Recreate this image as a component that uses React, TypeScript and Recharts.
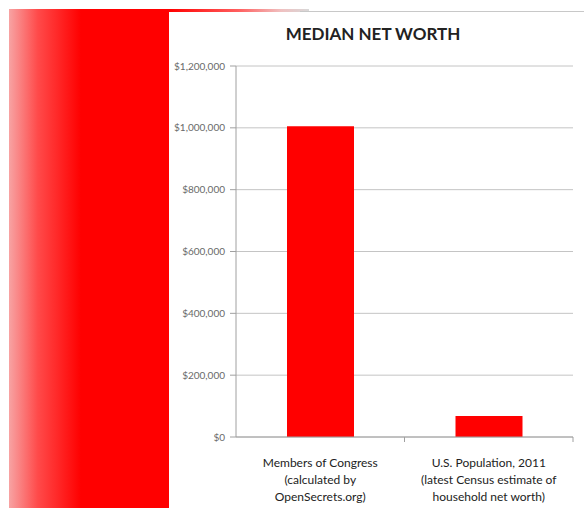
import React from 'react';
import { BarChart, Bar, XAxis, YAxis, CartesianGrid } from 'recharts';

const categories = ['Members of Congress', 'U.S. Population, 2011'];
const categoryLines = [
  ['Members of Congress', '(calculated by', 'OpenSecrets.org)'],
  ['U.S. Population, 2011', '(latest Census estimate of', 'household net worth)'],
];
const medianNetWorth = [1005000, 68000];
const yTicks = [0, 200000, 400000, 600000, 800000, 1000000, 1200000];

const data = categories.map((name, i) => ({ name, value: medianNetWorth[i] }));

const formatMoney = (v: number) => '$' + v.toLocaleString('en-US');

const CategoryTick = (props: any) => {
  const { x, y, payload, index } = props;
  const lines = categoryLines[index] ?? [payload.value];
  const half = payload.offset ?? 0;
  return (
    <g>
      <line x1={x + half} x2={x + half} y1={y - 8} y2={y - 3} stroke="#a0a0a0" />
      <text x={x} y={y} textAnchor="middle" fill="#222" fontSize={12} fontFamily="Lato, sans-serif">
        {lines.map((l: string, i: number) => (
          <tspan key={i} x={x} dy={i === 0 ? 22 : 17}>{l}</tspan>
        ))}
      </text>
    </g>
  );
};

export default function App() {
  return (
    <div style={{ position: 'absolute', left: 0, top: 0, width: 584, height: 508, background: '#fff', overflow: 'hidden' }}>
      <div
        style={{
          position: 'absolute', left: 9, top: 9, width: 160, height: 499,
          background: 'linear-gradient(to right, #f7a3a3 0%, #ff4a4a 18%, #ff0000 45%, #ff0000 100%)',
        }}
      />
      <div
        style={{
          position: 'absolute', left: 169, top: 9, width: 140, height: 3,
          background: 'linear-gradient(to right, #ff0000 0%, #ff6060 50%, #f0c0c0 80%, #d8d8d8 100%)',
        }}
      />
      <div style={{ position: 'absolute', left: 300, top: 11, width: 284, height: 1, background: '#c8c8c8' }} />
      <div
        style={{
          position: 'absolute', left: 170, top: 23, width: 406, textAlign: 'center',
          fontFamily: 'Lato, sans-serif', fontWeight: 700, fontSize: 17, color: '#222',
        }}
      >
        MEDIAN NET WORTH
      </div>
      <div style={{ position: 'absolute', left: 0, top: 0 }}>
        <BarChart
          width={584}
          height={508}
          data={data}
          margin={{ top: 66, right: 11, left: 170, bottom: 0 }}
          barCategoryGap={51}
        >
          <CartesianGrid vertical={false} stroke="#c4c4c4" />
          <XAxis
            dataKey="name"
            height={71}
            axisLine={{ stroke: '#a0a0a0' }}
            tickLine={false}
            interval={0}
            tick={<CategoryTick />}
          />
          <YAxis
            width={66}
            domain={[0, 1200000]}
            ticks={yTicks}
            tickFormatter={formatMoney}
            axisLine={{ stroke: '#a0a0a0' }}
            tickLine={{ stroke: '#a0a0a0' }}
            tickSize={6}
            dx={-3}
            tick={{ fill: '#6a6a6a', fontSize: 10, fontFamily: 'Lato, sans-serif' }}
          />
          <Bar dataKey="value" fill="#ff0000" isAnimationActive={false} />
        </BarChart>
      </div>
    </div>
  );
}
